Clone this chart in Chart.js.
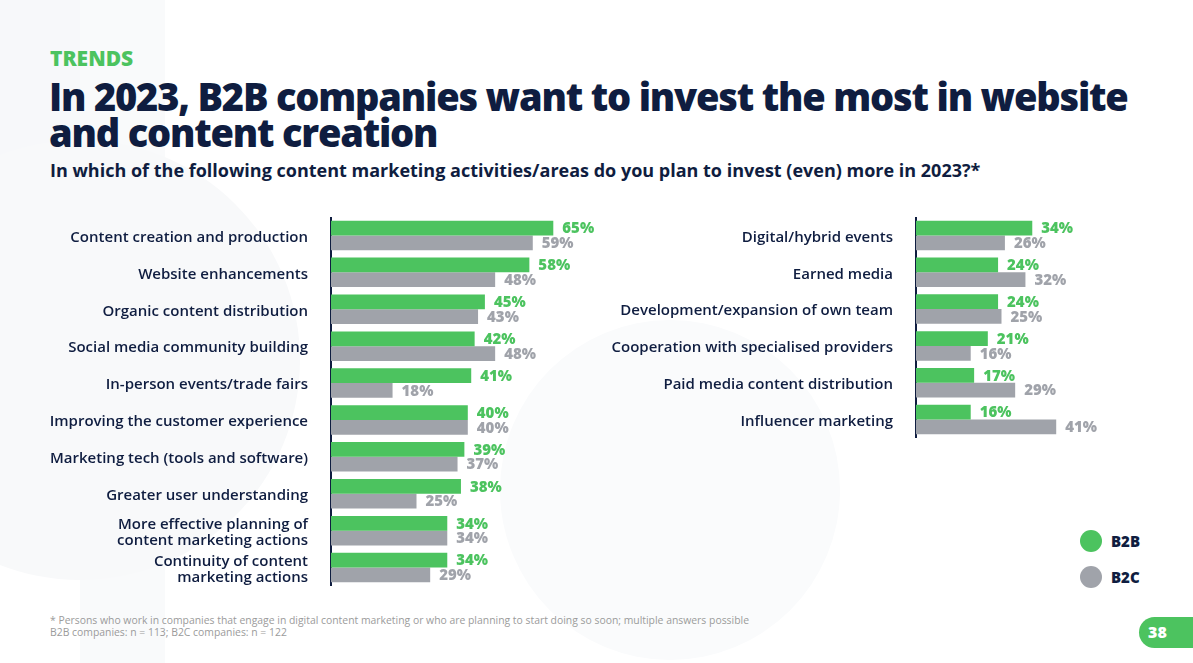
<!DOCTYPE html>
<html>
<head>
<meta charset="utf-8">
<script src="https://cdn.jsdelivr.net/npm/chart.js@4.4.1/dist/chart.umd.min.js"></script>
<style>
  html, body { margin: 0; padding: 0; }
  body { width: 1193px; height: 663px; position: relative; overflow: hidden; background: #fff; font-family: "Open Sans", sans-serif; }
  .bg { position: absolute; background: #f7f8fa; }
  .txt { position: absolute; white-space: nowrap; }
  .box { position: absolute; }
</style>
</head>
<body>
<!-- faint watermark shapes -->
<div class="bg" style="left:0;top:0;width:165px;height:163px;"></div>
<div class="bg" style="left:80px;top:0;width:85px;height:663px;background:#f9fafb;"></div>
<div class="bg" style="left:-140px;top:140px;width:440px;height:440px;border-radius:50%;background:#f8f9fa;"></div>
<div class="bg" style="left:500px;top:320px;width:340px;height:340px;border-radius:50%;background:#fafbfc;"></div>

<div class="txt" style="left:50px;top:48px;font-size:21px;line-height:21px;font-weight:800;color:#4cc35f;">TRENDS</div>
<div class="txt" style="left:49px;top:78px;font-size:38px;line-height:36px;font-weight:800;letter-spacing:-1.2px;color:#0f1d40;">In 2023, B2B companies want to invest the most in website<br>and content creation</div>
<div class="txt" style="left:50px;top:161px;font-size:18px;line-height:18px;font-weight:700;color:#0f1d40;">In which of the following content marketing activities/areas do you plan to invest (even) more in 2023?*</div>

<div class="box" style="left:0;top:217px;width:673px;height:369px;"><canvas id="left"></canvas></div>
<div class="box" style="left:590px;top:217px;width:603px;height:221px;"><canvas id="right"></canvas></div>

<div class="txt" style="left:50px;top:614px;font-size:10.4px;line-height:12px;color:#9b9b9b;">* Persons who work in companies that engage in digital content marketing or who are planning to start doing so soon; multiple answers possible<br>B2B companies: n = 113; B2C companies: n = 122</div>

<div class="box" style="left:1080px;top:530px;width:22px;height:22px;border-radius:50%;background:#4cc35f;"></div>
<div class="txt" style="left:1111px;top:531px;font-size:15px;line-height:20px;font-weight:800;color:#0f1d40;">B2B</div>
<div class="box" style="left:1080px;top:566px;width:22px;height:22px;border-radius:50%;background:#a0a3aa;"></div>
<div class="txt" style="left:1111px;top:567px;font-size:15px;line-height:20px;font-weight:800;color:#0f1d40;">B2C</div>

<div class="box" style="left:1139px;top:617px;width:70px;height:31px;border-radius:16px;background:#4cc35f;"></div>
<div class="txt" style="left:1148px;top:622px;font-size:16px;line-height:21px;font-weight:800;color:#fff;">38</div>

<script>
const leftLabels = [
  'Content creation and production',
  'Website enhancements',
  'Organic content distribution',
  'Social media community building',
  'In-person events/trade fairs',
  'Improving the customer experience',
  'Marketing tech (tools and software)',
  'Greater user understanding',
  ['More effective planning of', 'content marketing actions'],
  ['Continuity of content', 'marketing actions']
];
const leftB2B = [65, 58, 45, 42, 41, 40, 39, 38, 34, 34];
const leftB2C = [59, 48, 43, 48, 18, 40, 37, 25, 34, 29];

const rightLabels = [
  'Digital/hybrid events',
  'Earned media',
  'Development/expansion of own team',
  'Cooperation with specialised providers',
  'Paid media content distribution',
  'Influencer marketing'
];
const rightB2B = [34, 24, 24, 21, 17, 16];
const rightB2C = [26, 32, 25, 16, 29, 41];

const green = '#4cc35f';
const gray = '#a0a3aa';
const navy = '#0f1d40';

// percent labels next to each bar
const valueLabels = {
  id: 'valueLabels',
  afterDatasetsDraw(chart) {
    const ctx = chart.ctx;
    ctx.save();
    ctx.font = '800 15px "Open Sans"';
    ctx.textBaseline = 'middle';
    ctx.textAlign = 'left';
    chart.data.datasets.forEach((ds, i) => {
      const meta = chart.getDatasetMeta(i);
      ctx.fillStyle = ds.labelColor;
      meta.data.forEach((bar, j) => {
        ctx.fillText(ds.data[j] + '%', bar.x + 9, bar.y + 1);
      });
    });
    ctx.restore();
  }
};

function makeChart(id, labels, b2b, b2c, axisWidth, max) {
  return new Chart(document.getElementById(id), {
    type: 'bar',
    data: {
      labels: labels,
      datasets: [
        { label: 'B2B', data: b2b, backgroundColor: green, labelColor: green,
          barPercentage: 1, categoryPercentage: 0.8 },
        { label: 'B2C', data: b2c, backgroundColor: gray, labelColor: gray,
          barPercentage: 1, categoryPercentage: 0.8 }
      ]
    },
    options: {
      indexAxis: 'y',
      responsive: true,
      maintainAspectRatio: false,
      animation: false,
      layout: { padding: 0 },
      plugins: { legend: { display: false }, tooltip: { enabled: false } },
      scales: {
        x: { display: false, min: 0, max: max },
        y: {
          grid: { display: false, drawTicks: false },
          border: { display: true, color: navy, width: 2 },
          ticks: {
            color: navy,
            padding: 23,
            labelOffset: 2,
            font: { family: 'Open Sans', size: 15, weight: '600', lineHeight: 1.1 }
          },
          afterFit(scale) {
            scale.width = axisWidth;
            scale.paddingTop = 0;
            scale.paddingBottom = 0;
          }
        }
      }
    },
    plugins: [valueLabels]
  });
}

makeChart('left', leftLabels, leftB2B, leftB2C, 331, 100);
makeChart('right', rightLabels, rightB2B, rightB2C, 326, 81);
</script>
</body>
</html>
